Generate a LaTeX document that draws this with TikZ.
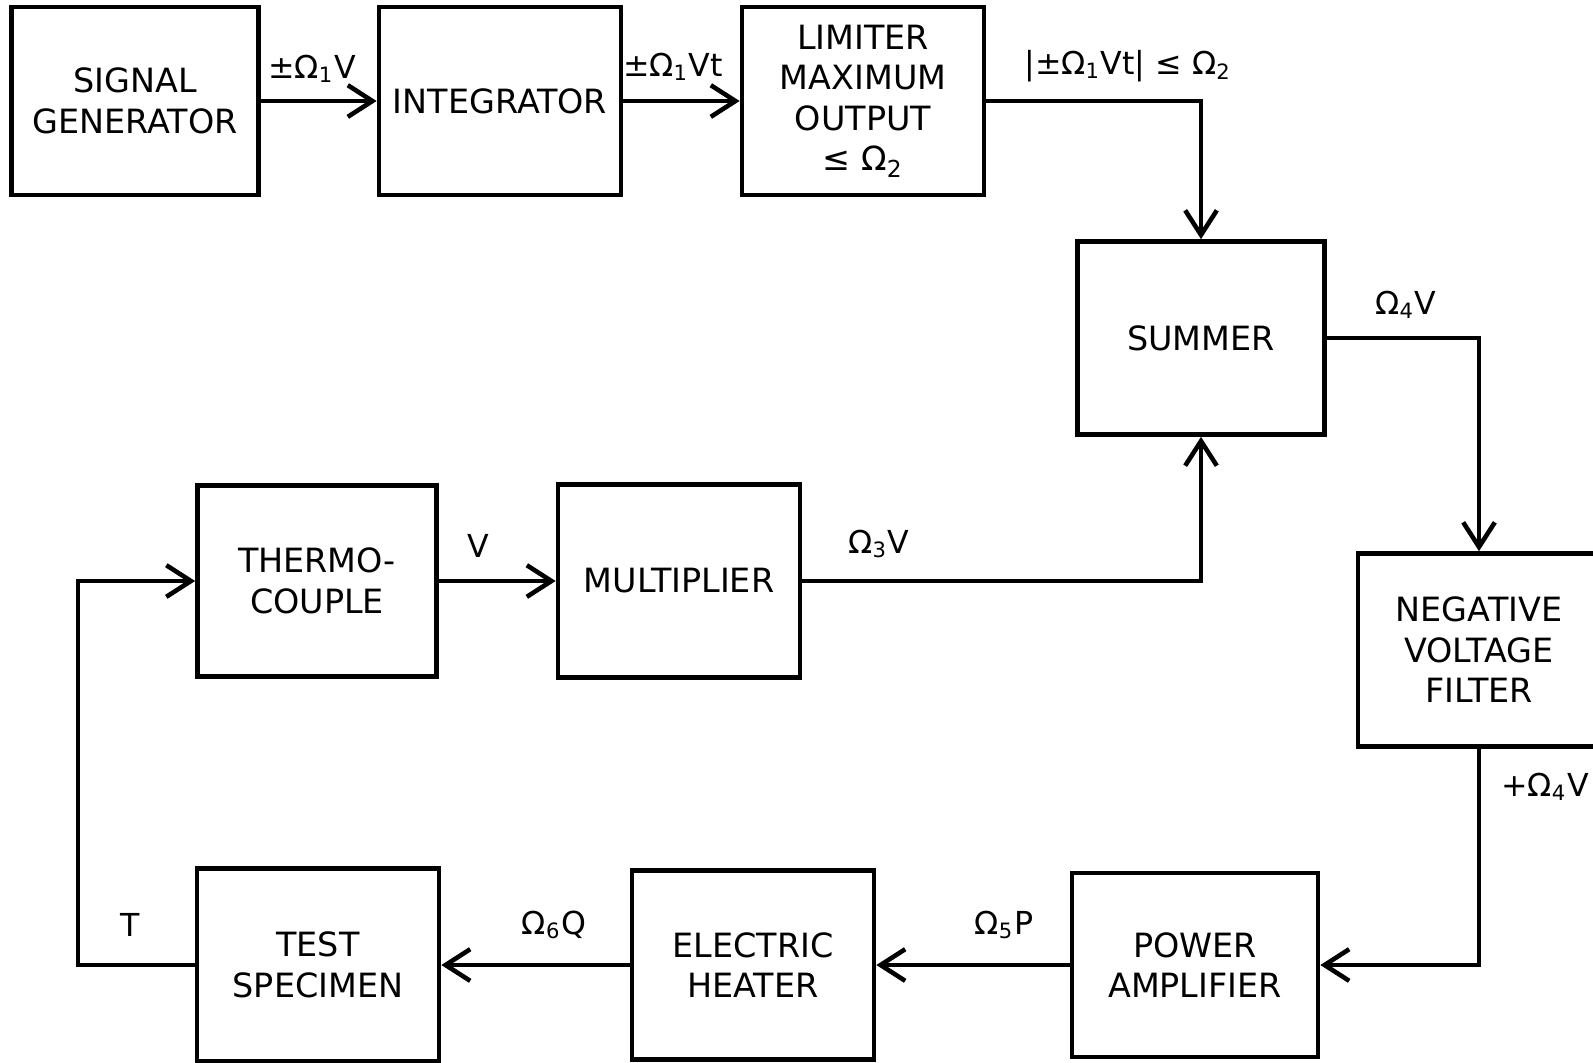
\documentclass[tikz,border=0pt]{standalone}
\usepackage{fontspec}
\setmainfont{DejaVu Sans}
\usetikzlibrary{arrows.meta}
\tikzset{
  block/.style={draw,line width=1.3pt,minimum width=2.42cm,minimum height=1.88cm,
    align=center,font=\fontsize{9.5}{11.5}\selectfont},
  lbl/.style={font=\fontsize{9}{11}\selectfont},
  wire/.style={line width=1.3pt},
  flow/.style={wire,-{Straight Barb[length=7pt,width=9pt]}}
}
\begin{document}
\begin{tikzpicture}[x=0.01cm,y=-0.01cm]
\useasboundingbox (0,0) rectangle (1593,1062);
% top row
\node[block,minimum width=2.47cm] (siggen) at (135,101) {SIGNAL\\GENERATOR};
\node[block] (integ) at (500,101) {INTEGRATOR};
\node[block] (limiter) at (863,101) {LIMITER\\MAXIMUM\\OUTPUT\\≤ Ω\textsubscript{2}};
\node[block,minimum width=2.47cm,minimum height=1.93cm] (summer) at (1201,338) {SUMMER};
\node[block,minimum height=1.93cm] (filter) at (1479,650) {NEGATIVE\\VOLTAGE\\FILTER};
% middle row
\node[block,minimum width=2.39cm,minimum height=1.91cm] (thermo) at (317,581) {THERMO-\\COUPLE};
\node[block,minimum height=1.93cm] (mult) at (679,581) {MULTIPLIER};
% bottom row
\node[block,minimum height=1.93cm] (specimen) at (318,965) {TEST\\SPECIMEN};
\node[block,minimum height=1.89cm] (heater) at (753,965) {ELECTRIC\\HEATER};
\node[block,minimum width=2.46cm,minimum height=1.84cm] (amp) at (1195,965) {POWER\\AMPLIFIER};
\coordinate (back) at (78,965);
% connectors
\draw[flow] (siggen) -- (integ);
\draw[flow] (integ) -- (limiter);
\draw[flow] (limiter.east) -| (summer.north);
\draw[flow] (summer.east) -| (filter.north);
\draw[flow] (filter.south) |- (amp.east);
\draw[flow] (amp.west) -- (heater.east);
\draw[flow] (heater.west) -- (specimen.east);
\draw[flow] (specimen.west) -- (back) |- (thermo.west);
\draw[flow] (thermo) -- (mult);
\draw[flow] (mult.east) -| (summer.south);
% signal labels
\node[lbl] (l1) at (312,69) {±Ω\textsubscript{1}V};
\node[lbl] (l2) at (673,67) {±Ω\textsubscript{1}Vt};
\node[lbl] (l3) at (1128,66) {|±Ω\textsubscript{1}Vt| ≤ Ω\textsubscript{2}};
\node[lbl] (l4) at (1406,305) {Ω\textsubscript{4}V};
\node[lbl] (l5) at (1545,787) {+Ω\textsubscript{4}V};
\node[lbl] (l6) at (1004,925) {Ω\textsubscript{5}P};
\node[lbl] (l7) at (554,925) {Ω\textsubscript{6}Q};
\node[lbl] (l8) at (130,925) {T};
\node[lbl] (l9) at (478,546) {V};
\node[lbl] (l10) at (879,544) {Ω\textsubscript{3}V};
\end{tikzpicture}
\end{document}
